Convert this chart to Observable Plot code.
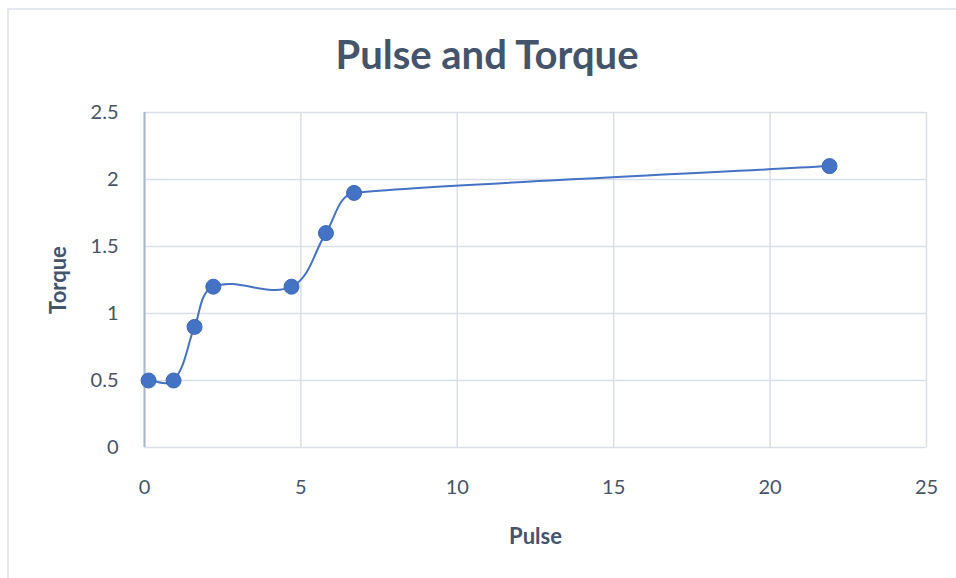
<!DOCTYPE html>
<html>
<head>
<meta charset="utf-8">
<script src="https://cdn.jsdelivr.net/npm/d3@7"></script>
<script src="https://cdn.jsdelivr.net/npm/@observablehq/plot@0.6"></script>
<style>
  html, body { margin: 0; padding: 0; background: #fff; }
  #wrap { position: relative; width: 956px; height: 578px; overflow: hidden; font-family: Lato, "Open Sans", sans-serif; }
  #frame { position: absolute; left: 7px; top: 8px; width: 1000px; height: 1000px; border-left: 2px solid #e3e7ee; border-top: 2px solid #e3e7ee; box-sizing: border-box; }
  #title { position: relative; height: 90px; line-height: 108px; text-align: center; font-size: 40px; font-weight: bold; color: #44546a; padding-left: 18px; }
  #chart { position: relative; }
</style>
</head>
<body>
<div id="wrap">
  <div id="frame"></div>
  <div id="title">Pulse and Torque</div>
  <div id="chart"></div>
</div>
<script>
const pulse = [0.13, 0.93, 1.6, 2.2, 4.7, 5.8, 6.7, 21.9];
const torque = [0.5, 0.5, 0.9, 1.2, 1.2, 1.6, 1.9, 2.1];
const xTicks = [0, 5, 10, 15, 20, 25];
const yTicks = [0, 0.5, 1, 1.5, 2, 2.5];
const xTitle = "Pulse";
const yTitle = "Torque";

const data = pulse.map((p, i) => ({pulse: p, torque: torque[i]}));
const textColor = "#44546a";
const fmt = d => String(d);

// Spreadsheet-style smoothed line: Bezier segments whose tangent handles are
// limited by the neighbouring segment lengths (works on scaled pixel points).
function smoothCurve(context) {
  let pts = [];
  return {
    areaStart() {}, areaEnd() {},
    lineStart() { pts = []; },
    point(x, y) { pts.push([+x, +y]); },
    lineEnd() {
      const n = pts.length;
      if (!n) return;
      context.moveTo(pts[0][0], pts[0][1]);
      if (n === 1) return;
      if (n === 2) { context.lineTo(pts[1][0], pts[1][1]); return; }
      const dist = (a, b) => Math.hypot(b[0] - a[0], b[1] - a[1]);
      const tan = pts.map((p, i) => {
        const a = pts[Math.max(0, i - 1)], b = pts[Math.min(n - 1, i + 1)];
        const l = dist(a, b) || 1;
        return [(b[0] - a[0]) / l, (b[1] - a[1]) / l];
      });
      // handle length from point i toward neighbour j
      const handle = (i, j) => {
        const dij = dist(pts[i], pts[j]);
        const k = 2 * i - j;
        if (k < 0 || k > n - 1) return dij / 3;
        return Math.min(dij / 3, dist(pts[i], pts[k]));
      };
      for (let i = 0; i < n - 1; i++) {
        const p = pts[i], q = pts[i + 1];
        const h1 = handle(i, i + 1), h2 = handle(i + 1, i);
        context.bezierCurveTo(
          p[0] + tan[i][0] * h1, p[1] + tan[i][1] * h1,
          q[0] - tan[i + 1][0] * h2, q[1] - tan[i + 1][1] * h2,
          q[0], q[1]);
      }
    }
  };
}

const chart = Plot.plot({
  width: 956,
  height: 488,
  marginTop: 22,
  marginBottom: 131,
  marginLeft: 144,
  marginRight: 30,
  style: { fontFamily: "Lato, 'Open Sans', sans-serif", fontSize: "20px", color: textColor, background: "transparent" },
  x: { domain: [0, 25] },
  y: { domain: [0, 2.5] },
  marks: [
    Plot.gridX(xTicks, { stroke: "#d9dee7", strokeOpacity: 1, strokeWidth: 1.5 }),
    Plot.gridY(yTicks, { stroke: "#d9dee7", strokeOpacity: 1, strokeWidth: 1.5 }),
    Plot.ruleX([0], { stroke: "#aab5c9", strokeWidth: 2 }),
    Plot.axisX(xTicks, { tickSize: 0, tickPadding: 32, fontSize: 20, fill: textColor, label: null, tickFormat: fmt }),
    Plot.axisY(yTicks, { tickSize: 0, tickPadding: 26, fontSize: 20, fill: textColor, label: null, tickFormat: fmt }),
    Plot.text([xTitle], { frameAnchor: "bottom", dy: 96, fontSize: 22, fontWeight: "bold", fill: textColor }),
    Plot.text([yTitle], { frameAnchor: "left", textAnchor: "middle", dx: -86, rotate: -90, fontSize: 22, fontWeight: "bold", fill: textColor }),
    Plot.line(data, { x: "pulse", y: "torque", curve: smoothCurve, stroke: "#4472c4", strokeWidth: 2 }),
    Plot.dot(data, { x: "pulse", y: "torque", r: 7.5, fill: "#4472c4", stroke: "#3d68b5", strokeWidth: 1 })
  ]
});
document.getElementById("chart").appendChild(chart);
</script>
</body>
</html>
